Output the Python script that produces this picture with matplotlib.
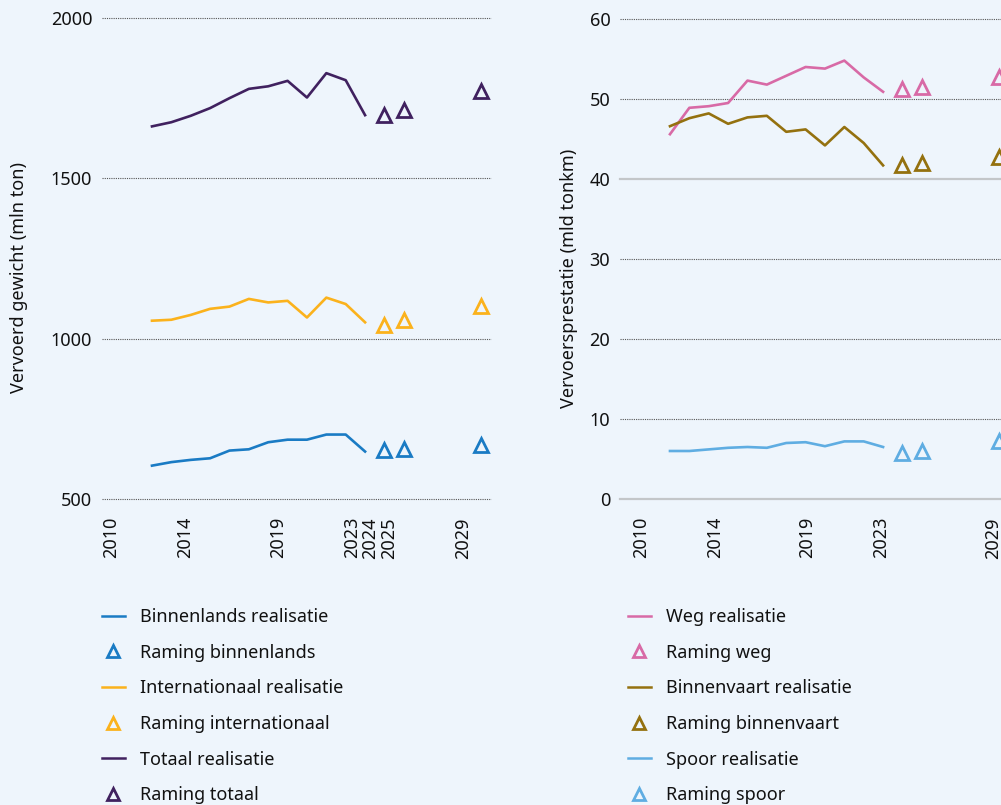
import matplotlib
matplotlib.use('Agg')
import matplotlib.pyplot as plt
from matplotlib.lines import Line2D

# Jaren met realisatie en jaren met raming
jaren = list(range(2012, 2024))
jaren_raming = [2024, 2025, 2029]

# Vervoerd gewicht (mln ton)
binnenlands = [604, 615, 622, 627, 651, 655, 677, 685, 685, 701, 701, 648]
binnenlands_raming = [654, 656, 667]
internationaal = [1056, 1059, 1074, 1093, 1100, 1124, 1113, 1118, 1066, 1128, 1108, 1051]
internationaal_raming = [1044, 1058, 1103]
totaal = [1662, 1675, 1695, 1719, 1750, 1779, 1787, 1804, 1752, 1828, 1806, 1697]
totaal_raming = [1697, 1712, 1771]

# Vervoersprestatie (mld tonkm)
weg = [45.6, 48.9, 49.1, 49.5, 52.3, 51.8, 52.9, 54.0, 53.8, 54.8, 52.7, 50.9]
weg_raming = [51.2, 51.5, 52.8]
binnenvaart = [46.6, 47.6, 48.2, 46.9, 47.7, 47.9, 45.9, 46.2, 44.2, 46.5, 44.5, 41.7]
binnenvaart_raming = [41.7, 42.0, 42.8]
spoor = [6.0, 6.0, 6.2, 6.4, 6.5, 6.4, 7.0, 7.1, 6.6, 7.2, 7.2, 6.5]
spoor_raming = [5.8, 6.0, 7.2]

# Labels op de x-as
labels_links = ['2010', '2014', '2019', '2023', '2024', '2025', '2029']
labels_rechts = ['2010', '2014', '2019', '2023', '2029']

namen_links = ['Binnenlands realisatie', 'Raming binnenlands',
               'Internationaal realisatie', 'Raming internationaal',
               'Totaal realisatie', 'Raming totaal']
namen_rechts = ['Weg realisatie', 'Raming weg',
                'Binnenvaart realisatie', 'Raming binnenvaart',
                'Spoor realisatie', 'Raming spoor']

# Kleuren
achtergrond = '#eef5fc'
tekst = '#111111'
blauw = '#1a7bc4'
geel = '#fbb21c'
paars = '#40215f'
roze = '#d86aa6'
bruin = '#94710f'
lichtblauw = '#5fade2'

plt.rcParams['font.family'] = ['Noto Sans', 'DejaVu Sans']
plt.rcParams['text.color'] = tekst

W, H = 1001, 805
fig = plt.figure(figsize=(W / 100, H / 100), dpi=100, facecolor=achtergrond)
ax1 = fig.add_axes([102 / W, 1 - 499 / H, 389 / W, 481 / H])
ax2 = fig.add_axes([620 / W, 1 - 499 / H, 389 / W, 480 / H])

xmin, xmax = 2009.42, 2029.5


def opmaak(ax, yticks, labels, verschuiving, ylabel, label_x, solide=()):
    ax.set_facecolor(achtergrond)
    ax.set_xlim(xmin, xmax)
    ax.set_ylim(yticks[0], yticks[-1])
    for s in ax.spines.values():
        s.set_visible(False)
    # horizontale hulplijnen
    for v in yticks:
        if v in solide:
            ax.axhline(v, color='#c3c6c9', linewidth=1.6, zorder=1,
                       clip_on=False)
        else:
            ax.axhline(v, color='#555555', linewidth=0.8,
                       linestyle=(0, (1, 1)), zorder=1, clip_on=False)
    ax.set_yticks(yticks)
    # labels op het midden van 21 vakken (2010 t/m 2030)
    vak = (xmax - xmin) / 21
    pos = [xmin + vak / 2 + verschuiving + (int(l) - 2010) * vak for l in labels]
    ax.set_xticks(pos)
    ax.set_xticklabels(labels, rotation=90, va='top', ha='center')
    ax.tick_params(axis='both', length=0, labelsize=13, colors=tekst)
    ax.tick_params(axis='y', pad=7)
    ax.tick_params(axis='x', pad=13)
    ax.set_ylabel(ylabel, fontsize=13, color=tekst)
    ax.yaxis.set_label_coords(label_x, 0.46)


def reeks(ax, y, y_raming, kleur):
    ax.plot(jaren, y, color=kleur, linewidth=1.9, zorder=3)
    ax.plot(jaren_raming, y_raming, linestyle='none', marker='^', ms=10,
            mfc='none', mec=kleur, mew=2.0, zorder=3)


opmaak(ax1, [500, 1000, 1500, 2000], labels_links, 0.0,
       'Vervoerd gewicht (mln ton)', (28 - 102) / 389)
opmaak(ax2, [0, 10, 20, 30, 40, 50, 60], labels_rechts, 0.59,
       'Vervoersprestatie (mld tonkm)', (578 - 620) / 389, solide=(0, 40))

reeks(ax1, binnenlands, binnenlands_raming, blauw)
reeks(ax1, internationaal, internationaal_raming, geel)
reeks(ax1, totaal, totaal_raming, paars)

reeks(ax2, weg, weg_raming, roze)
reeks(ax2, binnenvaart, binnenvaart_raming, bruin)
reeks(ax2, spoor, spoor_raming, lichtblauw)


def legenda(namen, kleuren, x):
    handles = []
    for i, naam in enumerate(namen):
        kleur = kleuren[i // 2]
        if i % 2 == 0:
            h = Line2D([], [], color=kleur, linewidth=1.8, label=naam)
        else:
            h = Line2D([], [], linestyle='none', marker='^', ms=9, mfc='none',
                       mec=kleur, mew=2.0, label=naam)
        handles.append(h)
    fig.legend(handles=handles, loc='upper left',
               bbox_to_anchor=(x / W, 1 - 608 / H), frameon=False,
               fontsize=13, handlelength=1.25, handletextpad=0.85,
               labelspacing=0.98, borderaxespad=0, borderpad=0,
               labelcolor=tekst)


legenda(namen_links, [blauw, geel, paars], 102)
legenda(namen_rechts, [roze, bruin, lichtblauw], 628)

fig.savefig('out.png', dpi=100, facecolor=achtergrond)
